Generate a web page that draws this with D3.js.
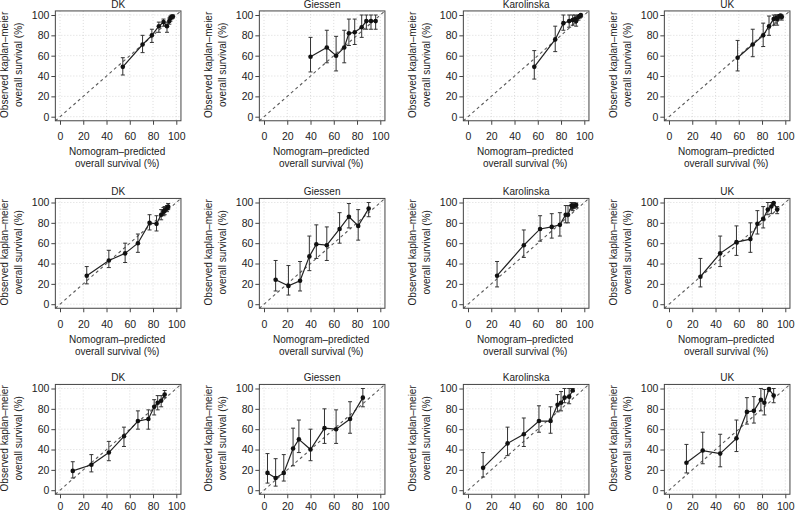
<!DOCTYPE html>
<html>
<head>
<meta charset="utf-8">
<script src="https://cdn.jsdelivr.net/npm/d3@7"></script>
<style>
  html, body { margin: 0; padding: 0; background: #fff; }
  svg { display: block; font-family: "Liberation Sans", Arial, Helvetica, sans-serif; }
</style>
</head>
<body>
<svg id="chart" width="796" height="511"></svg>
<script>
// ---- tick labels / categories ----
const ticks = [0, 20, 40, 60, 80, 100];
const centres = ["DK", "Giessen", "Karolinska", "UK"];
const yTitle = ["Observed kaplan\u2013meier", "overall survival (%)"];
const xTitle = ["Nomogram\u2013predicted", "overall survival (%)"];

// ---- Row 1 ----
const r1DkX  = [54, 71, 79, 85, 89, 92, 94, 95, 96, 97];
const r1DkY  = [49, 71, 80, 89, 93, 89, 94, 97, 98, 98.5];
const r1DkLo = [41, 63, 73, 83, 89, 83, 91, 94, 96, 97];
const r1DkHi = [58, 80, 86, 93, 96, 93, 97, 99, 100, 100];

const r1GiX  = [40, 54, 62, 69, 73, 78, 84, 88, 92, 96];
const r1GiY  = [59, 68, 60, 68, 82, 83, 88, 94, 94, 94];
const r1GiLo = [44, 53, 45, 53, 70, 71, 78, 86, 86, 86];
const r1GiHi = [78, 85, 79, 85, 96, 96, 100, 100, 100, 100];

const r1KaX  = [57, 75, 82, 87, 90, 92, 93, 95, 96, 97];
const r1KaY  = [49, 76, 92, 94, 95, 96, 94, 98, 99, 100];
const r1KaLo = [37, 64, 85, 88, 90, 92, 89, 95, 97, 98];
const r1KaHi = [65, 89, 100, 100, 100, 100, 99, 100, 100, 100];

const r1UkX  = [59, 72, 81, 86, 90, 92, 93, 95, 96, 97];
const r1UkY  = [58, 71, 80, 89, 96, 97, 96, 99, 99.5, 98];
const r1UkLo = [45, 59, 69, 80, 90, 92, 90, 96, 98, 95];
const r1UkHi = [75, 86, 92, 99, 100, 100, 100, 100, 100, 100];

// ---- Row 2 ----
const r2DkX  = [23, 42, 56, 67, 77, 83, 87, 89, 90, 92, 93];
const r2DkY  = [28, 43, 50, 60, 80, 79, 88, 91, 92, 94, 96];
const r2DkLo = [20, 36, 41, 51, 73, 72, 83, 87, 88, 91, 93];
const r2DkHi = [37, 53, 60, 69, 88, 87, 93, 95, 96, 97, 99];

const r2GiX  = [10, 21, 31, 39, 45, 54, 65, 73, 81, 90];
const r2GiY  = [24, 18, 23, 47, 59, 58, 74, 86, 77, 94];
const r2GiLo = [13, 9, 13, 33, 45, 43, 60, 75, 63, 86];
const r2GiHi = [43, 38, 42, 67, 78, 76, 90, 99, 93, 100];

const r2KaX  = [25, 48, 62, 72, 79, 84, 86, 89, 90, 91, 93];
const r2KaY  = [28, 58, 74, 76, 78, 88, 88, 97, 96, 97, 97.5];
const r2KaLo = [17, 46, 62, 65, 67, 80, 80, 93, 92, 94, 95];
const r2KaHi = [42, 73, 87, 89, 90, 97, 97, 100, 100, 100, 99.5];

const r2UkX  = [27, 44, 58, 70, 76, 81, 85, 88, 90, 93];
const r2UkY  = [27, 50, 61, 64, 79, 84, 93, 96, 99.5, 93];
const r2UkLo = [17, 37, 48, 51, 69, 75, 88, 89, 97, 89];
const r2UkHi = [45, 67, 77, 80, 92, 96, 100, 100, 100, 96];

// ---- Row 3 ----
const r3DkX  = [11, 27, 42, 55, 67, 76, 81, 84, 87, 90];
const r3DkY  = [19, 25, 37, 53, 68, 70, 82, 86, 88, 94];
const r3DkLo = [12, 18, 29, 43, 60, 60, 74, 79, 82, 91];
const r3DkHi = [28, 35, 48, 62, 78, 79, 89, 93, 93, 98];

const r3GiX  = [3, 10, 17, 25, 30, 40, 52, 62, 74, 85];
const r3GiY  = [17, 12, 17, 41, 50, 40, 61, 60, 70, 91];
const r3GiLo = [7, 4, 9, 24, 37, 29, 46, 46, 56, 82];
const r3GiHi = [36, 31, 35, 61, 69, 60, 80, 79, 87, 100];

const r3KaX  = [13, 34, 48, 61, 71, 77, 80, 83, 87, 90];
const r3KaY  = [22, 46, 55, 68, 68, 84, 86, 91, 92, 98];
const r3KaLo = [13, 34, 43, 57, 56, 77, 78, 86, 85, 97];
const r3KaHi = [37, 62, 71, 83, 82, 94, 97, 100, 100, 100];

const r3UkX  = [15, 29, 44, 58, 67, 73, 79, 82, 86, 90];
const r3UkY  = [27, 39, 36, 51, 77, 78, 89, 86, 99.5, 93];
const r3UkLo = [17, 26, 23, 38, 65, 66, 78, 74, 97, 86];
const r3UkHi = [45, 57, 55, 69, 91, 92, 100, 99, 100, 100];

const rows = [
  [[r1DkX, r1DkY, r1DkLo, r1DkHi], [r1GiX, r1GiY, r1GiLo, r1GiHi], [r1KaX, r1KaY, r1KaLo, r1KaHi], [r1UkX, r1UkY, r1UkLo, r1UkHi]],
  [[r2DkX, r2DkY, r2DkLo, r2DkHi], [r2GiX, r2GiY, r2GiLo, r2GiHi], [r2KaX, r2KaY, r2KaLo, r2KaHi], [r2UkX, r2UkY, r2UkLo, r2UkHi]],
  [[r3DkX, r3DkY, r3DkLo, r3DkHi], [r3GiX, r3GiY, r3GiLo, r3GiHi], [r3KaX, r3KaY, r3KaLo, r3KaHi], [r3UkX, r3UkY, r3UkLo, r3UkHi]]
];

// ---- layout ----
const colX0 = [60, 264, 468, 669];      // pixel of x = 0
const rowY100 = [15, 202.5, 388.5];     // pixel of y = 100
const xUnit = 1.163, yUnit = 1.017;
const xLabPad = [8, 8, 4];
const showXTitle = [true, true, false];
const ink = "#222";

const svg = d3.select("#chart");

rows.forEach((row, ri) => {
  row.forEach((panel, ci) => {
    const [px, py, plo, phi] = panel;
    const x0 = colX0[ci];
    const y100 = rowY100[ri];
    const y0 = y100 + 100 * yUnit;
    const x = d3.scaleLinear().domain([-4, 104]).range([x0 - 4 * xUnit, x0 + 104 * xUnit]);
    const y = d3.scaleLinear().domain([-4, 104]).range([y0 + 4 * yUnit, y100 - 4 * yUnit]);
    const [bx0, bx1] = x.range();
    const [by0, by1] = y.range(); // by0 bottom, by1 top

    const g = svg.append("g");

    // grid
    g.append("g").selectAll("line.gx").data(ticks).join("line")
      .attr("x1", d => x(d)).attr("x2", d => x(d))
      .attr("y1", by1).attr("y2", by0)
      .attr("stroke", "#d2d2d2").attr("stroke-width", 0.8).attr("stroke-dasharray", "1,2");
    g.append("g").selectAll("line.gy").data(ticks).join("line")
      .attr("x1", bx0).attr("x2", bx1)
      .attr("y1", d => y(d)).attr("y2", d => y(d))
      .attr("stroke", "#d2d2d2").attr("stroke-width", 0.8).attr("stroke-dasharray", "1,2");

    // diagonal reference line
    g.append("line")
      .attr("x1", x(-4)).attr("y1", y(-4)).attr("x2", x(104)).attr("y2", y(104))
      .attr("stroke", "#5a5a5a").attr("stroke-width", 1.1).attr("stroke-dasharray", "3,3");

    // axes
    const ax = g.append("g").attr("transform", `translate(0,${by0})`)
      .call(d3.axisBottom(x).tickValues(ticks).tickSize(4).tickPadding(xLabPad[ri]));
    const ay = g.append("g").attr("transform", `translate(${bx0},0)`)
      .call(d3.axisLeft(y).tickValues(ticks).tickSize(4).tickPadding(2));
    [ax, ay].forEach(a => {
      a.select(".domain").remove();
      a.selectAll(".tick line").attr("stroke", "#444");
      a.selectAll(".tick text").attr("fill", ink).style("font-size", "10.5px")
        .style("font-family", '"Liberation Sans", Arial, sans-serif');
    });

    // box
    g.append("rect").attr("x", bx0).attr("y", by1)
      .attr("width", bx1 - bx0).attr("height", by0 - by1)
      .attr("fill", "none").attr("stroke", "#444").attr("stroke-width", 1);

    // title
    g.append("text").attr("x", (bx0 + bx1) / 2).attr("y", by1 - 3)
      .attr("text-anchor", "middle").attr("fill", ink).style("font-size", "10px")
      .text(centres[ci]);

    // y title
    yTitle.forEach((t, k) => {
      g.append("text")
        .attr("transform", `translate(${bx0 - 51 + k * 14},${(by0 + by1) / 2 - 1}) rotate(-90)`)
        .attr("text-anchor", "middle").attr("dy", "0.35em")
        .attr("fill", ink).style("font-size", "10px").text(t);
    });

    // x title
    if (showXTitle[ri]) {
      xTitle.forEach((t, k) => {
        g.append("text")
          .attr("x", (bx0 + bx1) / 2 - 1).attr("y", y0 + 38.5 + k * 12)
          .attr("text-anchor", "middle").attr("fill", ink)
          .style("font-size", "10px").text(t);
      });
    }

    const idx = d3.range(px.length);

    // error bars
    const eb = g.append("g").attr("stroke", "#333").attr("stroke-width", 1);
    eb.selectAll("line.v").data(idx).join("line")
      .attr("x1", i => x(px[i])).attr("x2", i => x(px[i]))
      .attr("y1", i => y(plo[i])).attr("y2", i => y(phi[i]));
    eb.selectAll("line.lo").data(idx).join("line")
      .attr("x1", i => x(px[i]) - 2).attr("x2", i => x(px[i]) + 2)
      .attr("y1", i => y(plo[i])).attr("y2", i => y(plo[i]));
    eb.selectAll("line.hi").data(idx).join("line")
      .attr("x1", i => x(px[i]) - 2).attr("x2", i => x(px[i]) + 2)
      .attr("y1", i => y(phi[i])).attr("y2", i => y(phi[i]));

    // connecting line
    g.append("path").datum(idx)
      .attr("d", d3.line().x(i => x(px[i])).y(i => y(py[i])))
      .attr("fill", "none").attr("stroke", "#222").attr("stroke-width", 1.2);

    // points
    g.append("g").selectAll("circle").data(idx).join("circle")
      .attr("cx", i => x(px[i])).attr("cy", i => y(py[i])).attr("r", 2.3)
      .attr("fill", "#111");
  });
});
</script>
</body>
</html>
